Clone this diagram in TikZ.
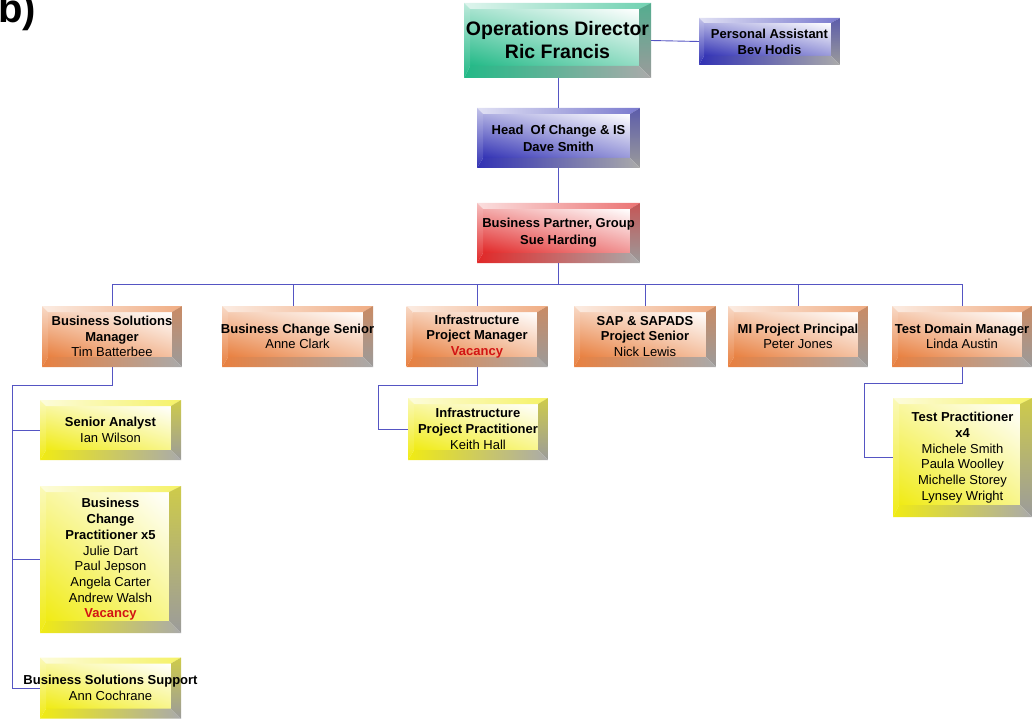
\documentclass[tikz,border=0pt]{standalone}
\usepackage{fontspec}
\setmainfont{Liberation Sans}
\usetikzlibrary{calc,shadings}
\definecolor{cgreen}{RGB}{35,185,135}
\definecolor{cblue}{RGB}{50,50,180}
\definecolor{cred}{RGB}{225,40,40}
\definecolor{corange}{RGB}{232,128,64}
\definecolor{cyellow}{RGB}{240,235,20}
\definecolor{cline}{RGB}{85,85,195}
\definecolor{vred}{RGB}{210,20,20}
\definecolor{bgrey}{RGB}{155,155,155}
\newcommand\vac{\textcolor{vred}{\textbf{Vacancy}}}
\tikzset{
  bevw/.store in=\bevw, bevw=10pt,
  bevl/.store in=\bevl, bevl=6pt,
  bev/.style n args={3}{rectangle, minimum width=#2, minimum height=#3,
    inner sep=0pt, outer sep=0pt, draw=none,
    path picture={
      \path (path picture bounding box.north west) coordinate (pNW)
            (path picture bounding box.north east) coordinate (pNE)
            (path picture bounding box.south west) coordinate (pSW)
            (path picture bounding box.south east) coordinate (pSE)
            ([shift={(\bevl,-\bevl)}]pNW) coordinate (iNW)
            ([shift={(-\bevw,-\bevl)}]pNE) coordinate (iNE)
            ([shift={(\bevl,\bevw)}]pSW) coordinate (iSW)
            ([shift={(-\bevw,\bevw)}]pSE) coordinate (iSE);
      \shade[lower left=#1, upper right=white, upper left=#1!40!white, lower right=#1!50!white]
        (iSW) rectangle (iNE);
      \shade[left color=#1!15!white, right color=#1!65!white] (pNW) -- (pNE) -- (iNE) -- (iNW) -- cycle;
      \shade[top color=#1!60!bgrey, bottom color=bgrey] (pNE) -- (pSE) -- (iSE) -- (iNE) -- cycle;
      \shade[left color=#1, right color=bgrey!85!white] (pSW) -- (pSE) -- (iSE) -- (iSW) -- cycle;
      \shade[top color=#1!30!white, bottom color=#1] (pNW) -- (pSW) -- (iSW) -- (iNW) -- cycle;
    }},
  txt/.style={align=center, font=\fontsize{13}{15.7}\selectfont, inner sep=0pt},
  conn/.style={draw=cline, line width=0.9pt},
}
\begin{document}
\begin{tikzpicture}[x=1pt,y=-1pt]
\useasboundingbox (0,0) rectangle (1032,719);
% label
\node[anchor=base west, inner sep=0pt, font=\fontsize{40}{40}\selectfont\bfseries] (lab) at (-2,23) {b)};
% boxes
\node[bev={cgreen}{187}{75}, bevw=12pt] (ops) at (557.5,40.5) {};
\node[bev={cblue}{141}{47}, bevw=9pt, bevl=5pt] (pa) at (769.5,41.5) {};
\node[bev={cblue}{163}{60}] (head) at (558.5,138) {};
\node[bev={cred}{163}{60}] (bp) at (558.5,233) {};
\node[bev={corange}{140}{61}] (bsm) at (112,336.5) {};
\node[bev={corange}{151}{61}] (bcs) at (297.5,336.5) {};
\node[bev={corange}{141}{61}] (ipm) at (477,336.5) {};
\node[bev={corange}{142}{61}] (sap) at (645,336.5) {};
\node[bev={corange}{140}{61}] (mi) at (798,336.5) {};
\node[bev={corange}{140}{61}] (tdm) at (962,336.5) {};
\node[bev={cyellow}{141}{60}] (sa) at (110.5,430) {};
\node[bev={cyellow}{141}{147}, bevw=12pt] (bcp) at (110.5,559.5) {};
\node[bev={cyellow}{141}{61}] (bss) at (110.5,688) {};
\node[bev={cyellow}{140}{62}] (ipp) at (478,429) {};
\node[bev={cyellow}{139}{119}, bevw=12pt] (tp) at (962.5,457.5) {};
% texts
\node[txt, font=\fontsize{19.5}{23}\selectfont\bfseries] (ops-t) at (ops.center) {Operations Director\\Ric Francis};
\node[txt, font=\fontsize{13}{16}\selectfont\bfseries] (pa-t) at (pa.center) {Personal Assistant\\Bev Hodis};
\node[txt, font=\fontsize{13}{17}\selectfont\bfseries] (head-t) at (head.center) {Head\ \ Of Change \& IS\\Dave Smith};
\node[txt, font=\fontsize{13}{17}\selectfont\bfseries] (bp-t) at (bp.center) {Business Partner, Group\\Sue Harding};
\node[txt] (bsm-t) at (bsm.center) {\textbf{Business Solutions}\\\textbf{Manager}\\Tim Batterbee};
\node[txt] (bcs-t) at (bcs.center) {\textbf{Business Change Senior}\\Anne Clark};
\node[txt] (ipm-t) at (ipm.center) {\textbf{Infrastructure}\\\textbf{Project Manager}\\\vac};
\node[txt] (sap-t) at (sap.center) {\textbf{SAP \& SAPADS}\\\textbf{Project Senior}\\Nick Lewis};
\node[txt] (mi-t) at (mi.center) {\textbf{MI Project Principal}\\Peter Jones};
\node[txt] (tdm-t) at (tdm.center) {\textbf{Test Domain Manager}\\Linda Austin};
\node[txt] (sa-t) at (sa.center) {\textbf{Senior Analyst}\\Ian Wilson};
\node[txt] (bcp-t) at (bcp.center) {\textbf{Business}\\\textbf{Change}\\\textbf{Practitioner x5}\\Julie Dart\\Paul Jepson\\Angela Carter\\Andrew Walsh\\\vac};
\node[txt] (bss-t) at (bss.center) {\textbf{Business Solutions Support}\\Ann Cochrane};
\node[txt] (ipp-t) at (ipp.center) {\textbf{Infrastructure}\\\textbf{Project Practitioner}\\Keith Hall};
\node[txt] (tp-t) at (tp.center) {\textbf{Test Practitioner}\\\textbf{x4}\\Michele Smith\\Paula Woolley\\Michelle Storey\\Lynsey Wright};
% connectors
\draw[conn] (ops.east) -- (pa.west);
\draw[conn] (head.north) -- (head.north |- ops.south);
\draw[conn] (head.south) -- (bp.north);
\coordinate (bj) at (558.5,284);
\draw[conn] (bp.south) -- (bj);
\draw[conn] (bsm.north) |- (bj);
\draw[conn] ([xshift=-4.5pt]bcs.north) |- (bj);
\draw[conn] (ipm.north) |- (bj);
\draw[conn] (sap.north) |- (bj);
\draw[conn] (mi.north) |- (bj);
\draw[conn] (tdm.north) |- (bj);
\coordinate (rail1) at (12,385);
\draw[conn] (bsm.south) |- (rail1) |- (bss.west);
\draw[conn] (rail1 |- sa.west) -- (sa.west);
\draw[conn] (rail1 |- bcp.west) -- (bcp.west);
\coordinate (rail2) at (378,385);
\draw[conn] (ipm.south) |- (rail2) |- (ipp.west);
\coordinate (rail3) at (864,383);
\draw[conn] (tdm.south) |- (rail3) |- (tp.west);
\end{tikzpicture}
\end{document}
